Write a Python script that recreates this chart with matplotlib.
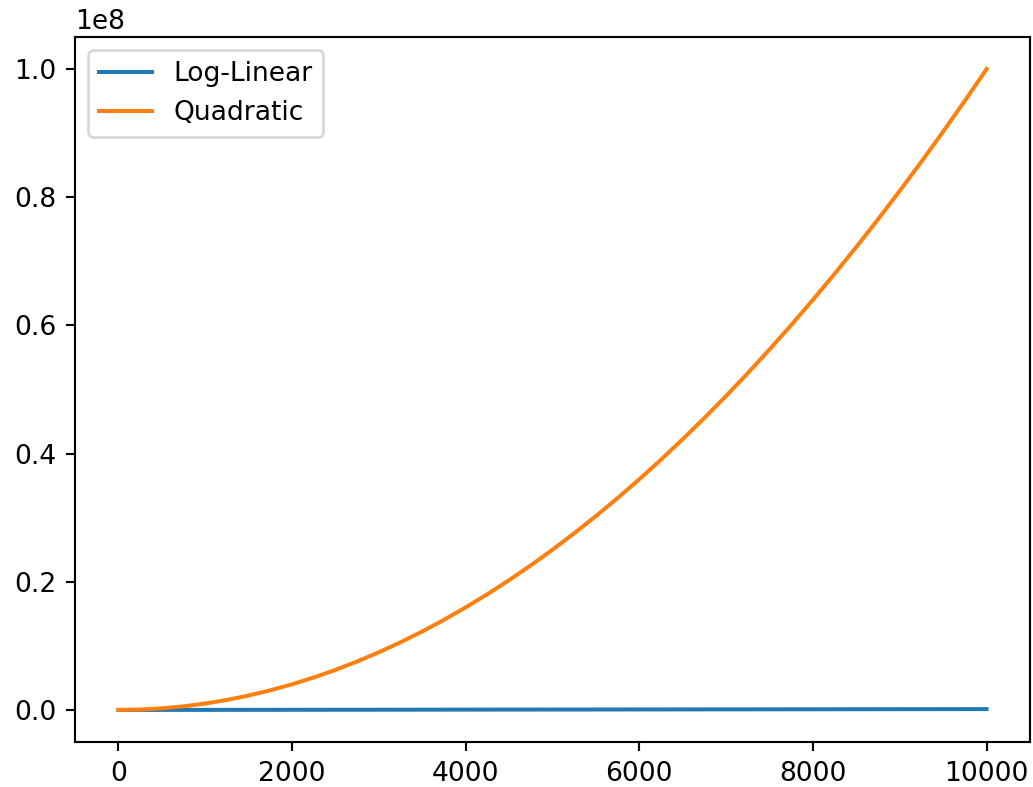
import matplotlib
matplotlib.use("Agg")
import matplotlib.pyplot as plt

# values
n_values = [0, 250, 500, 750, 1000, 1250, 1500, 1750, 2000, 2250, 2500,
            2750, 3000, 3250, 3500, 3750, 4000, 4250, 4500, 4750, 5000,
            5250, 5500, 5750, 6000, 6250, 6500, 6750, 7000, 7250, 7500,
            7750, 8000, 8250, 8500, 8750, 9000, 9250, 9500, 9750, 10000]

log_linear = [0, 2000, 4500, 7200, 10000, 12900, 15800, 18800, 21900,
              25000, 28200, 31400, 34700, 37900, 41200, 44500, 47900,
              51200, 54600, 58000, 61400, 64900, 68300, 71800, 75300,
              78800, 82300, 85800, 89400, 93000, 96500, 100100, 103700,
              107300, 110900, 114600, 118200, 121900, 125500, 129200, 132900]

quadratic = [0, 62500, 250000, 562500, 1000000, 1562500, 2250000, 3062500,
             4000000, 5062500, 6250000, 7562500, 9000000, 10562500,
             12250000, 14062500, 16000000, 18062500, 20250000, 22562500,
             25000000, 27562500, 30250000, 33062500, 36000000, 39062500,
             42250000, 45562500, 49000000, 52562500, 56250000, 60062500,
             64000000, 68062500, 72250000, 76562500, 81000000, 85562500,
             90250000, 95062500, 100000000]

dpi = 191
fig = plt.figure(figsize=(1033 / dpi, 787 / dpi), dpi=dpi)
ax = fig.add_axes([0.0726, 0.0572, 0.9245, 0.8958])

ax.plot(n_values, log_linear, label="Log-Linear")
ax.plot(n_values, quadratic, label="Quadratic")
ax.legend(loc="upper left")

fig.savefig("out.png", dpi=dpi)
